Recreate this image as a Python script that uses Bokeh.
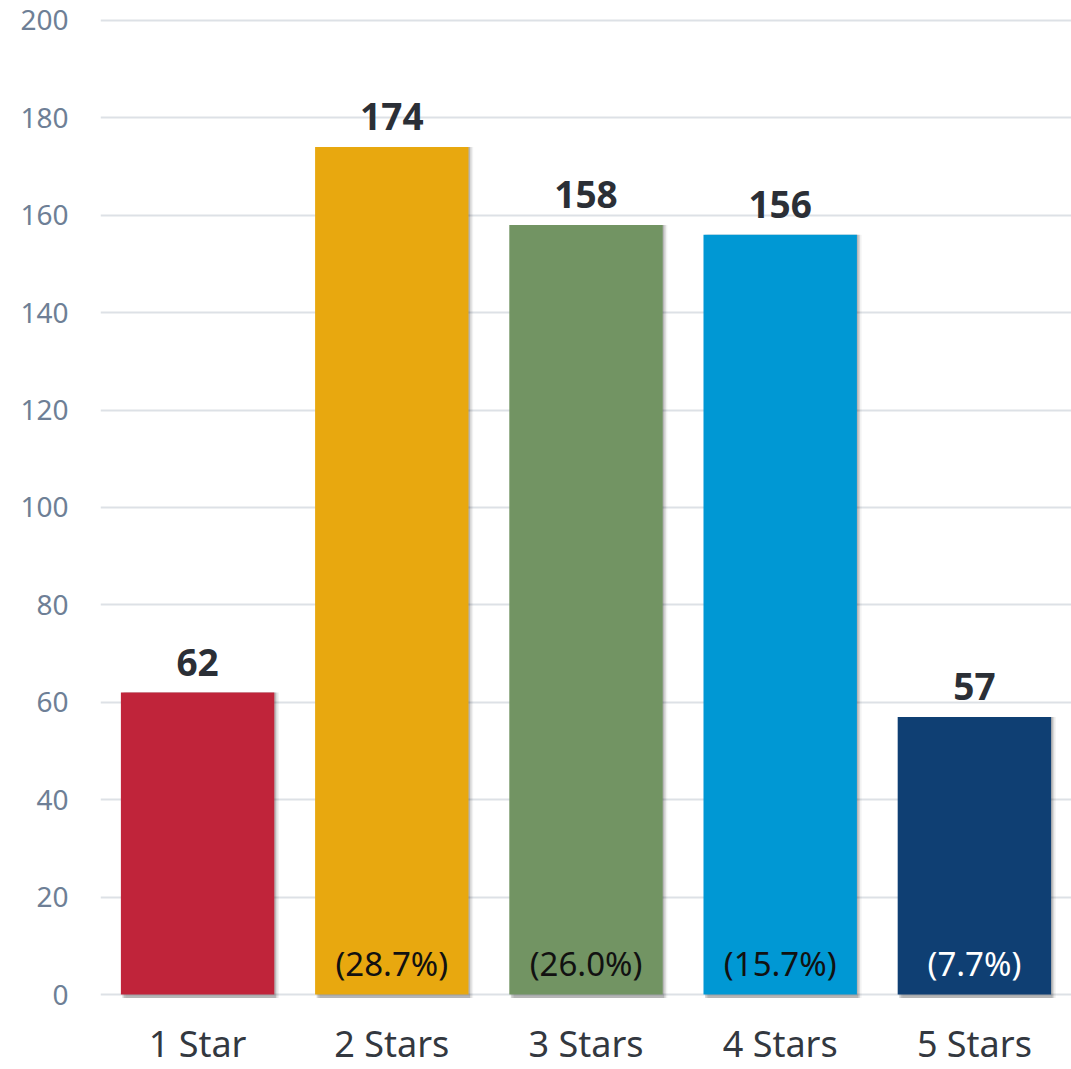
from bokeh.plotting import figure
from bokeh.models import ColumnDataSource, FixedTicker
from bokeh.transform import dodge
from bokeh.embed import file_html
from bokeh.resources import INLINE
from bokeh.core.properties import value

categories = ["1 Star", "2 Stars", "3 Stars", "4 Stars", "5 Stars"]
counts = [62, 174, 158, 156, 57]
pct_labels = ["", "(28.7%)", "(26.0%)", "(15.7%)", "(7.7%)"]
colors = ["#C0243A", "#E8A80F", "#729463", "#0098D4", "#0F3F73"]
pct_colors = ["#000000", "#111111", "#111111", "#111111", "#FFFFFF"]
y_ticks = [0, 20, 40, 60, 80, 100, 120, 140, 160, 180, 200]

FONT = "Noto Sans"

src = ColumnDataSource(dict(
    cat=categories, count=counts, pct=pct_labels, color=colors,
    pct_color=pct_colors, label=[str(c) for c in counts],
    zero=[0] * len(counts),
))

# frame spans the whole height; 0 sits 75px above the bottom edge, 200 sits 20px below top
p = figure(x_range=categories, y_range=(-15.4, 202.05), width=1071, height=1069,
           output_backend="svg", toolbar_location=None,
           min_border_left=100, min_border_right=0, min_border_top=10,
           min_border_bottom=0)
p.outline_line_color = None
p.background_fill_color = "white"
p.border_fill_color = "white"

# grid
p.xgrid.grid_line_color = None
p.ygrid.grid_line_color = "#DDE1E6"
p.ygrid.grid_line_width = 2
p.ygrid.ticker = FixedTicker(ticks=y_ticks)

# shadows
for off, a in [(0.008, 0.16), (0.016, 0.10), (0.024, 0.05)]:
    p.vbar(x=dodge("cat", off, range=p.x_range), top="count", bottom=-0.7,
           width=0.79, source=src, fill_color="#000000", fill_alpha=a,
           line_color=None)

p.vbar(x="cat", top="count", width=0.79, source=src, fill_color="color",
       line_color=None)

# value labels
p.text(x="cat", y="count", text="label", source=src, text_align="center",
       text_baseline="bottom", y_offset=-17, text_font=value(FONT),
       text_font_style="bold", text_font_size="37px", text_color="#2B2F36")

# percentage labels
p.text(x="cat", y="zero", text="pct", source=src,
       text_align="center", text_baseline="middle", y_offset=-31,
       text_font=value(FONT), text_font_size="33px", text_color="pct_color")

# category labels (drawn below the zero line)
p.text(x="cat", y="zero", text="cat", source=src,
       text_align="center", text_baseline="bottom", y_offset=73,
       text_font=value(FONT), text_font_size="36px", text_color="#333840")

# axes
p.yaxis.ticker = FixedTicker(ticks=y_ticks)
p.yaxis.axis_line_color = None
p.yaxis.major_tick_line_color = None
p.yaxis.minor_tick_line_color = None
p.yaxis.major_label_text_font = FONT
p.yaxis.major_label_text_font_size = "28px"
p.yaxis.major_label_text_color = "#6E7F96"
p.yaxis.major_label_standoff = 26

p.xaxis.visible = False

open("out.html", "w").write(file_html(p, INLINE))
